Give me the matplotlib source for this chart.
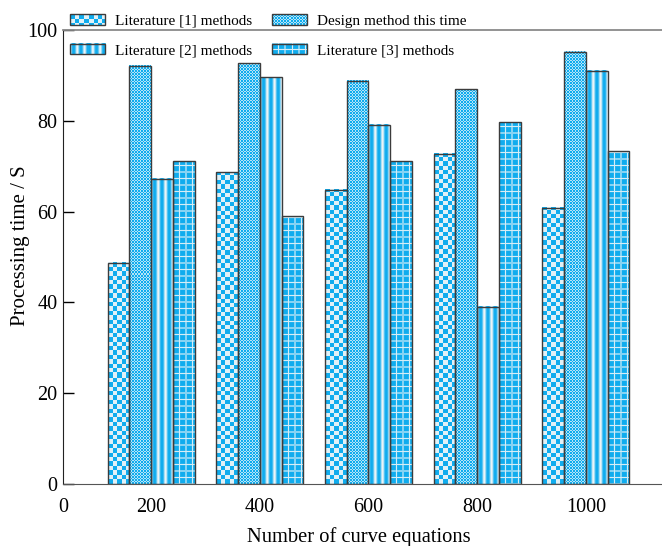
import numpy as np
import matplotlib
matplotlib.use("Agg")
import matplotlib.pyplot as plt
from matplotlib.legend_handler import HandlerBase
from matplotlib.image import BboxImage
from matplotlib.transforms import Bbox, TransformedBbox
from matplotlib.patches import Rectangle

plt.rcParams['font.family'] = ['Liberation Serif', 'DejaVu Serif']

# data
groups = ['200', '400', '600', '800', '1000']
lit1 = [48.7, 68.7, 64.8, 72.7, 60.8]
design = [92.1, 92.7, 88.8, 87.0, 95.2]
lit2 = [67.2, 89.6, 79.1, 39.0, 91.0]
lit3 = [71.1, 59.0, 71.1, 79.7, 73.3]
names = ['Literature [1] methods', 'Design method this time',
         'Literature [2] methods', 'Literature [3] methods']

BLUE = np.array([0x10, 0xAC, 0xEE]) / 255
WHITE = np.array([0xEC, 0xF5, 0xF8]) / 255
LIGHT = np.array([0xB5, 0xE4, 0xF7]) / 255


def mix(t, a=BLUE, b=WHITE):
    t = np.clip(t, 0, 1)[..., None]
    return a * (1 - t) + b * t


# textures, built in pixel units
def tex_checker(h, w):
    j, i = np.meshgrid(np.arange(w), np.arange(h))
    c = 4.4
    return mix(((i // c + j // c) % 2).astype(float) * 0.95)


def tex_fine(h, w):
    j, i = np.meshgrid(np.arange(w), np.arange(h))
    return mix(((i // 1.5 + j // 1.5) % 2).astype(float), BLUE, LIGHT)


def tex_stripes(h, w):
    j, i = np.meshgrid(np.arange(w), np.arange(h))
    t = (1 + np.cos(2 * np.pi * (j + 0.5) / 7.3)) / 2
    return mix(t ** 1.5)


def tex_grid(h, w):
    j, i = np.meshgrid(np.arange(w), np.arange(h))
    p = 6.5
    dx = np.abs(((j + 0.5) % p) - p / 2)
    dy = np.abs(((i + 0.5) % p) - p / 2)
    t = np.maximum(dx, dy) - (p / 2 - 1.1)
    return mix(np.clip(t, 0, 1) * 0.9)


textures = [tex_checker, tex_fine, tex_stripes, tex_grid]
series = [lit1, design, lit2, lit3]

fig = plt.figure(figsize=(6.62, 5.46), dpi=100)
ax = fig.add_axes([63 / 662, 62 / 546, 599 / 662, 454 / 546])
xmin, xmax = 0.19, 5.70
ax.set_xlim(xmin, xmax)
ax.set_ylim(0, 100)

x = np.arange(1, len(groups) + 1)
bw = 0.2
ax_w_px = ax.get_position().width * 662
ax_h_px = ax.get_position().height * 546
px_x = ax_w_px / (xmax - xmin)
px_y = ax_h_px / 100

for k, (vals, tex) in enumerate(zip(series, textures)):
    pos = x + (k - 1.5) * bw
    bars = ax.bar(pos, vals, bw, facecolor='none', edgecolor='#3c3c3c',
                  linewidth=1.0, zorder=3)
    for b in bars:
        x0, w, hgt = b.get_x(), b.get_width(), b.get_height()
        img = tex(max(int(round(hgt * px_y)), 1), max(int(round(w * px_x)), 1))
        ax.imshow(img, extent=(x0, x0 + w, 0, hgt), origin='lower',
                  aspect='auto', interpolation='nearest', zorder=2)

ax.set_xlim(xmin, xmax)
ax.set_ylim(0, 100)

ax.set_xticks([xmin] + list(x))
ax.set_xticklabels(['0'] + groups)
ax.tick_params(axis='x', length=0, pad=10, labelsize=14.5)
ax.set_yticks([0, 20, 40, 60, 80, 100])
ax.tick_params(axis='y', direction='in', length=8, width=1, pad=4,
               labelsize=14.5)

ax.spines['right'].set_visible(False)
ax.spines['top'].set_color('#8a8a8a')
ax.spines['top'].set_linewidth(1.3)
ax.spines['bottom'].set_color('#555555')
ax.spines['left'].set_color('#222222')

ax.set_xlabel('Number of curve equations', fontsize=14.8)
ax.set_ylabel('Processing time / S', fontsize=15)
ax.xaxis.set_label_coords(0.494, -0.095)
ax.yaxis.set_label_coords(-0.055, 0.524)


class TexHandler(HandlerBase):
    def __init__(self, tex):
        super().__init__()
        self.tex = tex

    def create_artists(self, legend, orig_handle, xdescent, ydescent,
                       width, height, fontsize, trans):
        bb = TransformedBbox(Bbox.from_bounds(-xdescent, -ydescent,
                                              width, height), trans)
        im = BboxImage(bb, interpolation='nearest')
        im.set_data(self.tex(int(round(height * 1.39)), int(round(width * 1.39))))
        rect = Rectangle((-xdescent, -ydescent), width, height, fill=False,
                         edgecolor='#3c3c3c', linewidth=1.0, transform=trans)
        return [im, rect]


proxies = [Rectangle((0, 0), 1, 1) for _ in range(4)]
order = [0, 2, 1, 3]
fig.legend([proxies[i] for i in order], [names[i] for i in order],
           handler_map={proxies[i]: TexHandler(textures[i]) for i in range(4)},
           loc='upper left', bbox_to_anchor=(70 / 662, 1 - 14 / 546),
           ncol=2, frameon=False, fontsize=11, borderpad=0,
           borderaxespad=0, handlelength=2.3, handleheight=0.7,
           handletextpad=0.65, columnspacing=1.3, labelspacing=1.05)

fig.savefig('out.png', dpi=100)
